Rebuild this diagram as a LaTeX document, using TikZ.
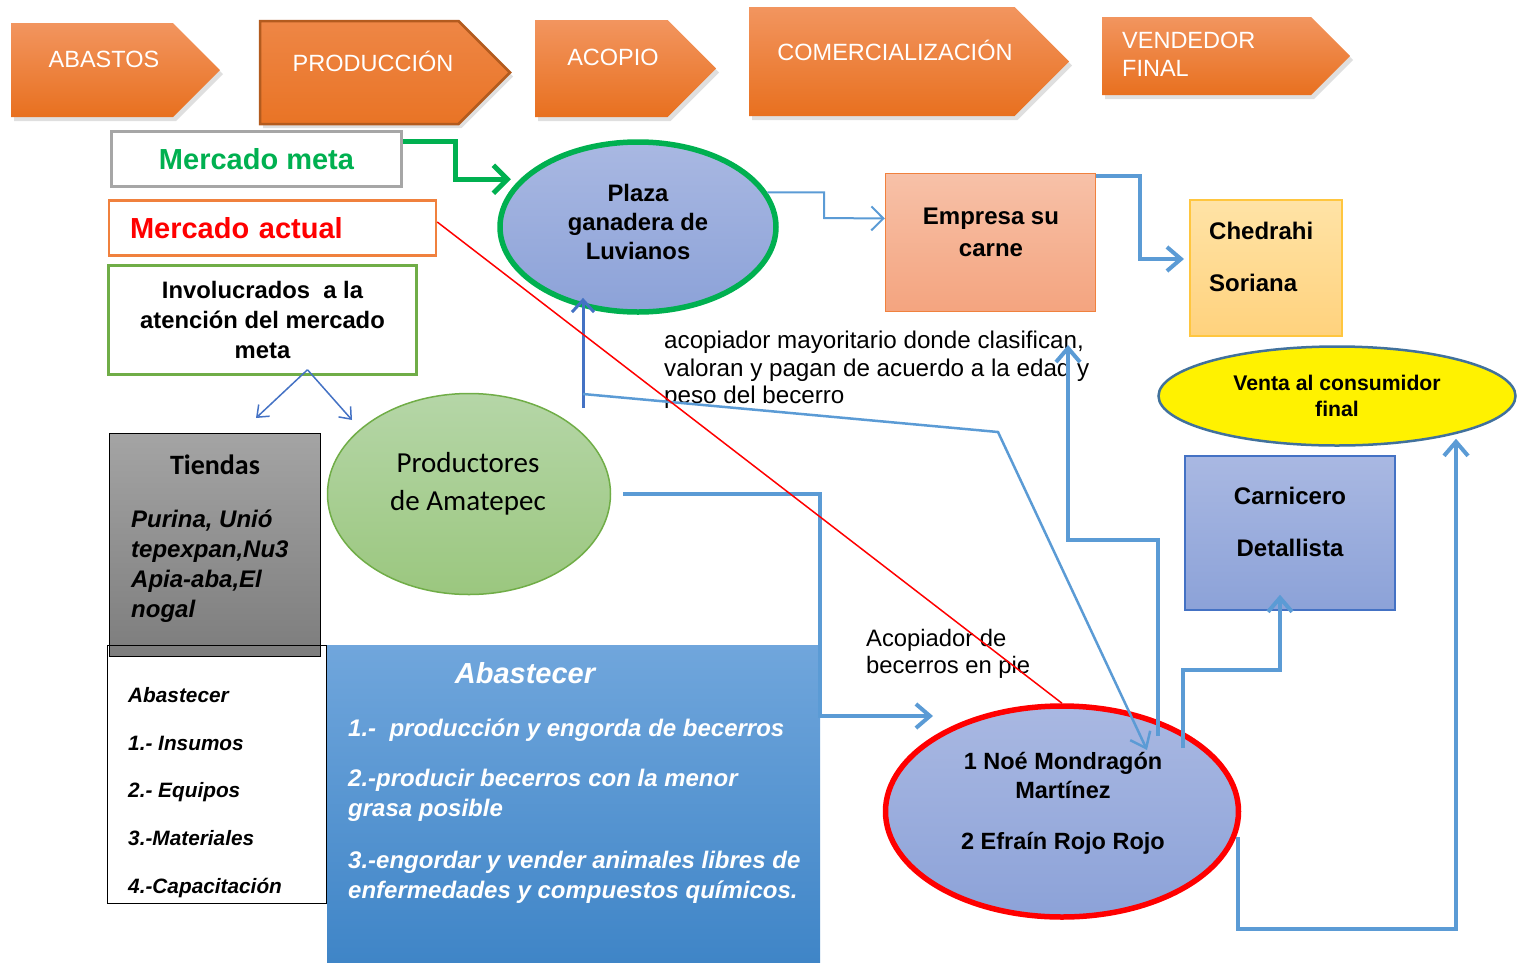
\documentclass[tikz,border=0pt]{standalone}
\usepackage{fontspec}
\setmainfont{Liberation Sans}
\newfontfamily\calibri{Carlito}
\usetikzlibrary{arrows.meta,shapes.geometric,shadows}

\definecolor{chevtop}{HTML}{F2955F}
\definecolor{chevbot}{HTML}{E8701F}
\definecolor{prodborder}{HTML}{B35B1E}
\definecolor{metagray}{HTML}{A6A6A6}
\definecolor{metagreen}{HTML}{00B050}
\definecolor{actorange}{HTML}{F0813E}
\definecolor{involgreen}{HTML}{70AD47}
\definecolor{linkblue}{HTML}{5B9BD5}
\definecolor{darkblue}{HTML}{4472C4}
\definecolor{ovaltop}{HTML}{A9B8E2}
\definecolor{ovalbot}{HTML}{8CA2D8}
\definecolor{emptop}{HTML}{F7C1A8}
\definecolor{empbot}{HTML}{F4A47F}
\definecolor{chedtop}{HTML}{FFE3A6}
\definecolor{chedbot}{HTML}{FFD27D}
\definecolor{chedborder}{HTML}{FFC63F}
\definecolor{ventaborder}{HTML}{41719C}
\definecolor{tiendatop}{HTML}{A4A4A4}
\definecolor{tiendabot}{HTML}{7D7D7D}
\definecolor{abtop}{HTML}{70A6DC}
\definecolor{abbot}{HTML}{3F85C7}
\definecolor{prodtop}{HTML}{B5D6A7}
\definecolor{prodbot}{HTML}{9BC77F}

\newcommand{\fsize}[2]{\fontsize{#1}{#2}\selectfont}
% arrow-shaped step of the chain: [options]{x1}{y1}{x2}{y2}
\newcommand{\chevron}[5][]{%
  \pgfmathsetmacro\chmid{(#3+#5)/2}%
  \pgfmathsetmacro\chtip{#4-(#5-#3)/2}%
  \shade[chevfill,#1] (#2,#3) -- (\chtip,#3) -- (#4,\chmid) -- (\chtip,#5) -- (#2,#5) -- cycle;}

\begin{document}
\begin{tikzpicture}[x=1pt, y=-1pt,
    chevfill/.style={top color=chevtop, bottom color=chevbot,
      drop shadow={opacity=.25, shadow xshift=3pt, shadow yshift=-4pt}},
    chevtxt/.style={text=white, font=\fsize{23.5}{28}, inner sep=0pt},
    oval/.style={ellipse, inner sep=0pt, align=center},
    link/.style={draw=linkblue, line width=4pt, -{Straight Barb[length=14pt,width=24pt]}},
    thinlink/.style={draw=linkblue, line width=2pt, -{Straight Barb[length=12pt,width=24pt]}}]
  \useasboundingbox (0,0) rectangle (1527,962);

  % chain of steps
  \chevron{11}{23}{220}{117}
  \chevron[draw=prodborder, line width=2.5pt, top color=chevtop!60!chevbot, bottom color=chevbot!90!chevtop]{260}{21}{510}{124}
  \chevron{535}{20}{716}{117}
  \chevron{749}{7}{1069}{116}
  \chevron{1102}{17}{1350}{95}
  \node[chevtxt] (abastos) at (104,59) {ABASTOS};
  \node[chevtxt] (produccion) at (373,61) {PRODUCCIÓN};
  \node[chevtxt] (acopio) at (613,57) {ACOPIO};
  \node[chevtxt] (comerc) at (895,50) {COMERCIALIZACIÓN};
  \node[chevtxt, anchor=west, align=left] (vendedor) at (1122,54) {VENDEDOR\\FINAL};

  % markets
  \node[draw=metagray, line width=3pt, minimum width=290pt, minimum height=55pt, text=metagreen,
    font=\bfseries\fsize{29}{32}] (meta) at (256.5,159) {Mercado meta};
  \node[draw=actorange, line width=2.5pt, minimum height=55pt, text width=285pt, inner xsep=21pt,
    align=left, text=red, font=\bfseries\fsize{29}{32}] (actual) at (272.5,228) {Mercado actual};
  \node[draw=involgreen, line width=2.5pt, minimum width=308pt, minimum height=109pt, align=center,
    font=\bfseries\fsize{23.8}{30}] (invol) at (262.5,320) {Involucrados\ \ a la\\atención del mercado\\meta};

  % suppliers
  \node[draw=black, line width=1pt, top color=tiendatop, bottom color=tiendabot,
    minimum width=211pt, minimum height=223pt] (tiendas) at (215,545) {};
  \node[font=\calibri\bfseries\fsize{28}{32}] (tiendas-t) at (215,465) {Tiendas};
  \node[anchor=west, align=left, inner sep=0pt, font=\bfseries\itshape\fsize{24}{30}] (tiendas-l) at (131,566)
    {Purina, Unió\\tepexpan,Nu3\\Apia-aba,El\\nogal};
  \node[draw=black, line width=1pt, minimum width=219pt, minimum height=258pt] (insumos) at (217,774.5) {};
  \node[anchor=west, align=left, inner sep=0pt, font=\bfseries\itshape\fsize{20.8}{47.8}] (insumos-l) at (128,792.5)
    {Abastecer\\1.- Insumos\\2.- Equipos\\3.-Materiales\\4.-Capacitación};
  \node[anchor=north west, inner sep=0pt, top color=abtop, bottom color=abbot,
    minimum width=493pt, minimum height=317pt] (abast) at (327,645) {};
  \node[text=white, font=\bfseries\itshape\fsize{29}{32}] (abast-t) at (525,673) {Abastecer};
  \node[anchor=north west, inner sep=0pt, align=left, text=white, font=\bfseries\itshape\fsize{24}{30}]
    (abast-l) at (348,719) {1.-\ \ producción y engorda de becerros\\[20pt]2.-producir becerros con la menor\\grasa posible\\[22pt]3.-engordar y vender animales libres de\\enfermedades y compuestos químicos.};

  % producers and buyers
  \node[oval, draw=involgreen, line width=1.5pt, top color=prodtop, bottom color=prodbot,
    minimum width=283pt, minimum height=201pt] (prod) at (469,494) {};
  \node[align=center, font=\calibri\fsize{29}{38}] (prod-t) at (468,484) {Productores\\de Amatepec};
  \node[oval, draw=metagreen, line width=5.5pt, top color=ovaltop, bottom color=ovalbot,
    minimum width=276pt, minimum height=170pt] (plaza) at (638,227) {};
  \node[align=center, font=\bfseries\fsize{23.8}{29}] (plaza-t) at (638,222) {Plaza\\ganadera de\\Luvianos};
  \node[draw=actorange, line width=1.5pt, top color=emptop, bottom color=empbot,
    minimum width=210pt, minimum height=138pt] (empresa) at (990.5,242.5) {};
  \node[align=center, font=\bfseries\fsize{24}{32}] (empresa-t) at (991,232) {Empresa su\\carne};
  \node[draw=chedborder, line width=2pt, top color=chedtop, bottom color=chedbot,
    minimum width=152pt, minimum height=136pt] (tienda) at (1266,268) {};
  \node[anchor=west, align=left, inner sep=0pt, font=\bfseries\fsize{24}{52}] (tienda-t) at (1209,257) {Chedrahi\\Soriana};
  \node[oval, draw=ventaborder, line width=2.5pt, fill=yellow, minimum width=357pt, minimum height=99pt,
    font=\bfseries\fsize{21.2}{26.5}] (venta) at (1337,396) {Venta al consumidor\\final};
  \node[draw=darkblue, line width=1.5pt, top color=ovaltop, bottom color=ovalbot,
    minimum width=210pt, minimum height=154pt] (carnicero) at (1290,533) {};
  \node[align=center, font=\bfseries\fsize{24}{52}] (carnicero-t) at (1290,522) {Carnicero\\Detallista};
  \node[oval, draw=red, line width=5.5pt, top color=ovaltop, bottom color=ovalbot,
    minimum width=353pt, minimum height=211pt] (noe) at (1062,811.5) {};
  \node[align=center, font=\bfseries\fsize{23.5}{29}] (noe-t) at (1063,803)
    {1 Noé Mondragón\\Martínez\\[22pt]2 Efraín Rojo Rojo};

  % notes
  \node[anchor=west, align=left, inner sep=0pt, font=\fsize{24.2}{27.5}] (acopio-nota) at (664,370)
    {acopiador mayoritario donde clasifican,\\valoran y pagan de acuerdo a la edad y\\peso del becerro};
  \node[anchor=west, align=left, inner sep=0pt, font=\fsize{23.8}{27.5}] (pie-nota) at (866,654)
    {Acopiador de\\becerros en pie};

  % connectors
  \draw[metagreen, line width=5pt, -{Straight Barb[length=14pt,width=28pt]}, shorten >=9pt]
    ([yshift=18pt]meta.east) -- (455,141) |- (plaza.158);
  \draw[thinlink] (plaza.15) -| (824,218) -- ([yshift=24pt]empresa.west);
  \draw[link, shorten >=5pt] ([yshift=-3pt]empresa.north east) -| (1140,259) -- ([yshift=9pt]tienda.west);
  \draw[link] ([shift={(96pt,76pt)}]noe.center) -- ++(0,-196) -| ([shift={(404pt,25pt)}]acopio-nota.west);
  \draw[link] ([shift={(121pt,63.5pt)}]noe.center) -- ++(0,-78) -| ([xshift=-10pt,yshift=16pt]carnicero.south);
  \draw[link] ([shift={(176pt,-25.5pt)}]noe.center) -- ++(0,92) -| ([xshift=119pt,yshift=8pt]venta.south);
  \draw[link] ([xshift=12pt]prod.east) -- ++(197,0) |- ([shift={(-129pt,95.5pt)}]noe.center);
  \coordinate (pz) at (583,408);
  \draw[darkblue, line width=3pt, -{Straight Barb[length=12pt,width=22pt]}, shorten >=-10pt]
    (pz) -- (pz |- plaza.236);
  \draw[linkblue, line width=2.5pt, -{Straight Barb[length=14pt,width=22pt]}]
    ([yshift=14pt]pz) -- (998,432) -- ([shift={(85pt,61.5pt)}]noe.center);
  \draw[red, line width=1.5pt] ([yshift=6pt]actual.east) -- (noe.north);
  \draw[darkblue, line width=1.5pt, -{Straight Barb[length=10pt,width=16pt]}]
    ([shift={(45pt,6pt)}]invol.south) -- ([shift={(41pt,15pt)}]tiendas.north);
  \draw[darkblue, line width=1.5pt, -{Straight Barb[length=10pt,width=16pt]}]
    ([shift={(45pt,6pt)}]invol.south) -- ([shift={(-117pt,74pt)}]prod.center);
\end{tikzpicture}
\end{document}
